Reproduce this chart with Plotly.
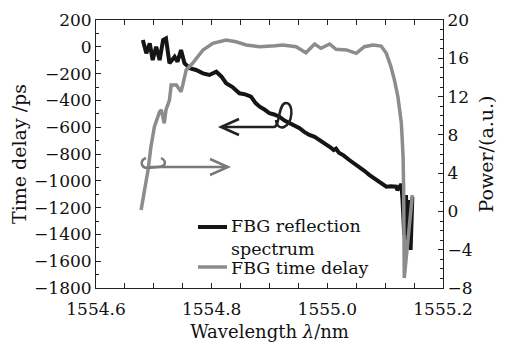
import plotly.graph_objects as go

# ---- data ----
# black curve (left axis, ps)
wl_black = [1554.681, 1554.687, 1554.693, 1554.698, 1554.704, 1554.710, 1554.716, 1554.721,
            1554.727, 1554.736, 1554.741, 1554.747, 1554.753, 1554.762, 1554.773, 1554.785,
            1554.796, 1554.808, 1554.817, 1554.825, 1554.836, 1554.848, 1554.858, 1554.868,
            1554.876, 1554.883, 1554.892, 1554.900, 1554.908, 1554.917, 1554.926, 1554.935,
            1554.944, 1554.952, 1554.960, 1554.969, 1554.978, 1554.987, 1554.996, 1555.004,
            1555.011, 1555.015, 1555.020, 1555.028, 1555.038, 1555.047, 1555.056, 1555.064,
            1555.073, 1555.082, 1555.090, 1555.096, 1555.102, 1555.110, 1555.119, 1555.121,
            1555.128, 1555.130, 1555.133, 1555.136, 1555.139, 1555.142, 1555.144, 1555.147]
delay_ps = [51, -49, 26, -99, 0, -99, 51, 63,
            -123, -74, -111, -24, -123, -160, -173, -198,
            -210, -186, -223, -272, -300, -347, -355, -372,
            -420, -447, -470, -496, -505, -522, -550, -571,
            -585, -608, -635, -658, -672, -696, -722, -746,
            -770, -760, -790, -810, -845, -870, -895, -925,
            -957, -985, -1007, -1030, -1044, -1040, -1044, -1069,
            -1024, -1143, -1404, -1106, -1479, -1143, -1516, -1121]

# grey curve (right axis, a.u.)
wl_grey = [1554.678, 1554.684, 1554.690, 1554.695, 1554.701, 1554.710, 1554.713, 1554.718,
           1554.721, 1554.727, 1554.730, 1554.739, 1554.747, 1554.750, 1554.756, 1554.767,
           1554.785, 1554.802, 1554.825, 1554.842, 1554.860, 1554.883, 1554.894, 1554.910,
           1554.923, 1554.935, 1554.946, 1554.963, 1554.978, 1554.989, 1555.004, 1555.015,
           1555.033, 1555.050, 1555.064, 1555.079, 1555.093, 1555.102, 1555.110, 1555.116,
           1555.122, 1555.128, 1555.131, 1555.132, 1555.133, 1555.147]
power_au = [0.15, 2.24, 4.33, 6.76, 8.85, 10.42, 10.60, 9.21,
            10.60, 11.64, 13.21, 13.21, 12.51, 13.21, 14.78, 15.48,
            16.87, 17.57, 17.91, 17.73, 17.39, 17.21, 17.21, 17.30,
            17.39, 17.25, 17.21, 16.58, 17.49, 17.04, 17.49, 16.94,
            16.87, 16.52, 17.21, 17.39, 17.28, 16.52, 15.12, 13.73,
            11.99, 9.21, 5.72, 2.24, -6.96, 1.72]

x_ticks = [1554.6, 1554.8, 1555.0, 1555.2]
x_ticklabels = ["1554.6", "1554.8", "1555.0", "1555.2"]
y_left_ticks = list(range(-1800, 201, 200))
y_right_ticks = list(range(-8, 21, 4))

legend_names = ["FBG reflection<br>spectrum", "FBG time delay"]
BLACK, GREY = "#151515", "#8c8c8c"
FONT = "DejaVu Serif"

# ---- pixel helpers (plot area in page pixels) ----
PX0, PX1, PY0, PY1 = 96, 443, 20, 288
def X(px):
    return 1554.6 + (px - PX0) / (PX1 - PX0) * 0.6
def Y(py):
    return 200 - (py - PY0) / (PY1 - PY0) * 2000
def XP(px):
    return (px - PX0) / (PX1 - PX0)
def YP(py):
    return (PY1 - py) / (PY1 - PY0)
def P(pts):
    return " ".join(f"{X(a):.5f},{Y(b):.2f}" for a, b in pts)

fig = go.Figure()
fig.add_trace(go.Scatter(x=wl_grey, y=power_au, yaxis="y2", mode="lines",
                         name=legend_names[1], showlegend=False,
                         line=dict(color=GREY, width=3.5)))
fig.add_trace(go.Scatter(x=wl_black, y=delay_ps, mode="lines",
                         name=legend_names[0], showlegend=False,
                         line=dict(color=BLACK, width=4)))

shapes = []
# left-pointing arrow with curl around black curve
shapes.append(dict(type="path", xref="x", yref="y",
                   path=f"M {P([(222,127)])} L {P([(274,127)])} "
                        f"C {P([(280,127),(278,103),(286,103)])} "
                        f"C {P([(294,103),(293,123),(284,127)])} "
                        f"C {P([(279,129),(276,124),(276,120)])}",
                   line=dict(color="#222", width=2.5)))
shapes.append(dict(type="path", xref="x", yref="y",
                   path=f"M {P([(239,119)])} L {P([(221,127)])} L {P([(239,135)])}",
                   line=dict(color="#222", width=2.5)))
# right-pointing arrow with curl around grey curve
shapes.append(dict(type="path", xref="x", yref="y",
                   path=f"M {P([(146,158)])} C {P([(140,160),(140,168),(148,168)])} "
                        f"L {P([(158,167)])} "
                        f"C {P([(166,167),(167,161),(161,158)])}",
                   line=dict(color="#7a7a7a", width=2.5)))
shapes.append(dict(type="path", xref="x", yref="y",
                   path=f"M {P([(150,167)])} L {P([(227,167)])}",
                   line=dict(color="#7a7a7a", width=2.5)))
shapes.append(dict(type="path", xref="x", yref="y",
                   path=f"M {P([(210,159)])} L {P([(228,167)])} L {P([(210,175)])}",
                   line=dict(color="#7a7a7a", width=2.5)))
# legend keys
shapes.append(dict(type="line", xref="paper", yref="paper",
                   x0=XP(198), x1=XP(227), y0=YP(227), y1=YP(227),
                   line=dict(color=BLACK, width=4)))
shapes.append(dict(type="line", xref="paper", yref="paper",
                   x0=XP(198), x1=XP(227), y0=YP(267), y1=YP(267),
                   line=dict(color=GREY, width=3.5)))

annotations = [
    dict(xref="paper", yref="paper", x=XP(229), y=YP(237), xanchor="left",
         yanchor="middle", align="left", showarrow=False, text=legend_names[0],
         font=dict(family=FONT, size=17.5, color="#111")),
    dict(xref="paper", yref="paper", x=XP(229), y=YP(268), xanchor="left",
         yanchor="middle", align="left", showarrow=False, text=legend_names[1],
         font=dict(family=FONT, size=17.5, color="#111")),
]

axis_common = dict(showgrid=False, zeroline=False, ticks="inside", ticklen=5,
                   tickwidth=1, tickcolor="#222", showline=True, linecolor="#222",
                   linewidth=1, tickfont=dict(family=FONT, size=17, color="#111"))

fig.update_layout(
    width=509, height=346,
    margin=dict(l=96, r=66, t=20, b=58, autoexpand=False),
    paper_bgcolor="white", plot_bgcolor="white",
    font=dict(family=FONT, size=17, color="#111"),
    showlegend=False,
    xaxis=dict(range=[1554.6, 1555.2], tickvals=x_ticks, ticktext=x_ticklabels,
               mirror="allticks", ticklabelstandoff=6,
               minor=dict(dtick=0.05, ticklen=3, ticks="inside", tickcolor="#222"),
               title=dict(text="Wavelength <i>λ</i>/nm", standoff=6,
                          font=dict(family=FONT, size=18)),
               **axis_common),
    yaxis=dict(range=[-1800, 200], tickvals=y_left_ticks,
               minor=dict(dtick=100, ticklen=3, ticks="inside", tickcolor="#222"),
               title=dict(text="Time delay /ps", standoff=2,
                          font=dict(family=FONT, size=19)),
               **axis_common),
    yaxis2=dict(range=[-8, 20], tickvals=y_right_ticks, overlaying="y", side="right",
                minor=dict(dtick=1, ticklen=3, ticks="inside", tickcolor="#222"),
                title=dict(text="Power/(a.u.)", standoff=8,
                           font=dict(family=FONT, size=19)),
                **axis_common),
    shapes=shapes,
    annotations=annotations,
)

fig.write_html("out.html", config={"displayModeBar": False},
               post_script="document.body.style.margin='0px';")
